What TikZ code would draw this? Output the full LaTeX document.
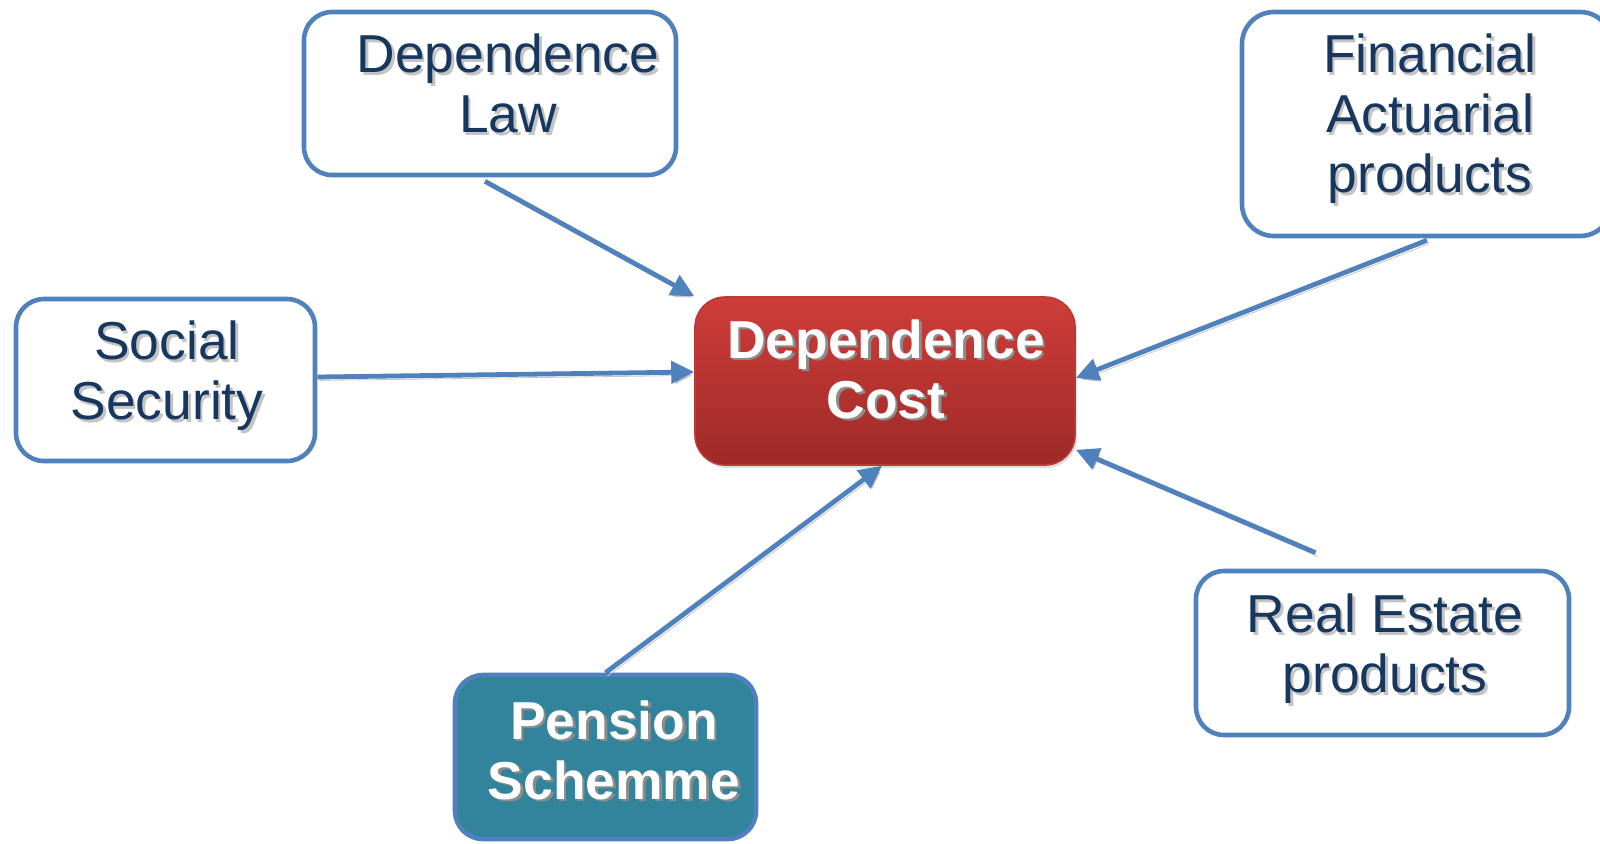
\documentclass[tikz,border=0pt]{standalone}
\usepackage{fontspec}
\setmainfont{Liberation Sans}
\usetikzlibrary{arrows.meta,calc,shadows}

\definecolor{boxblue}{RGB}{79,129,189}
\definecolor{navytext}{RGB}{23,55,94}
\definecolor{pensionteal}{RGB}{49,132,155}
\definecolor{redtop}{RGB}{207,61,57}
\definecolor{redbot}{RGB}{158,42,40}
\definecolor{redline}{RGB}{185,58,55}
\definecolor{navyshadow}{RGB}{196,196,196}
\definecolor{whiteshadow}{RGB}{140,140,140}
\definecolor{arrowshadow}{RGB}{195,195,195}

% text with a soft offset shadow behind it
\newcommand{\shadowed}[2]{\makebox[0pt][l]{\kern1.3pt\raisebox{-1.3pt}{\textcolor{#1}{#2}}}#2}
% struts that centre a text block between its first and last baselines
\newcommand{\topstrut}{\rule{0pt}{20pt}}
\newcommand{\botstrut}{\rule[-20pt]{0pt}{0pt}}

\tikzset{
  card/.style={draw=boxblue, line width=2.3pt, rounded corners=14pt, fill=white, inner sep=0pt},
  costbox/.style={draw=redline, line width=0.8pt, rounded corners=15pt, inner sep=0pt,
    top color=redtop, bottom color=redbot,
    drop shadow={opacity=0.25, shadow xshift=1pt, shadow yshift=-1.5pt}},
  pensionbox/.style={card, fill=pensionteal},
  lbl/.style={inner sep=0pt, align=center, text=navytext,
    font=\fontsize{26.7pt}{30pt}\selectfont},
  lblbold/.style={inner sep=0pt, align=center, text=white,
    font=\fontsize{26.7pt}{30pt}\selectfont\bfseries},
  conn/.style={draw=boxblue, line width=2.4pt, -{Triangle[length=11.5pt,width=11pt]},
    preaction={draw=arrowshadow, transform canvas={xshift=1pt,yshift=-1.7pt}}}
}

\begin{document}
\begin{tikzpicture}[x=0.5pt,y=-0.5pt]
  \useasboundingbox (0,0) rectangle (1600,843);
  \clip (0,0) rectangle (1600,843);

  % boxes
  \node[card, minimum width=186pt, minimum height=81.5pt] (law) at (490,93.5) {};
  \node[card, rounded corners=16pt, minimum width=185pt, minimum height=112pt] (fin) at (1427,124) {};
  \node[card, minimum width=149.5pt, minimum height=81pt] (social) at (165.5,380) {};
  \node[costbox, minimum width=190pt, minimum height=84pt] (cost) at (885,381) {};
  \node[pensionbox, minimum width=150.5pt, minimum height=82pt] (pension) at (605.5,757) {};
  \node[card, minimum width=186.5pt, minimum height=82pt] (real) at (1382.5,653) {};

  % labels
  \node[lbl] (law-t) at (508,102.5)
    {\topstrut\shadowed{navyshadow}{Dependence}\\\shadowed{navyshadow}{Law}\botstrut};
  \node[lbl] (fin-t) at (1430,132.5)
    {\topstrut\shadowed{navyshadow}{Financial}\\\shadowed{navyshadow}{Actuarial}\\\shadowed{navyshadow}{products}\botstrut};
  \node[lbl] (social-t) at (167,389.5)
    {\topstrut\shadowed{navyshadow}{Social}\\\shadowed{navyshadow}{Security}\botstrut};
  \node[lblbold] (cost-t) at (886,388)
    {\topstrut\shadowed{whiteshadow}{Dependence}\\\shadowed{whiteshadow}{Cost}\botstrut};
  \node[lblbold] (pension-t) at (614,769)
    {\topstrut\shadowed{whiteshadow}{Pension}\\\shadowed{whiteshadow}{Schemme}\botstrut};
  \node[lbl] (real-t) at (1385,662.5)
    {\topstrut\shadowed{navyshadow}{Real Estate}\\\shadowed{navyshadow}{products}\botstrut};

  % connectors
  \coordinate (re-start) at ($(real.north)+(-67,-16)$);
  \draw[conn] ($(law.south)+(-5,4)$) -- (cost.north west);
  \draw[conn] ($(social.east)+(0,-3)$) -- ($(cost.west)+(0,-9)$);
  \draw[conn] ($(fin.south)+(0,2)$) -- ($(cost.east)+(0,-3)$);
  \draw[conn] (re-start) -- ($(cost.south east)+(0,-16)$);
  \draw[conn] (pension.north) -- ($(cost.south)+(-3,0)$);
\end{tikzpicture}
\end{document}
